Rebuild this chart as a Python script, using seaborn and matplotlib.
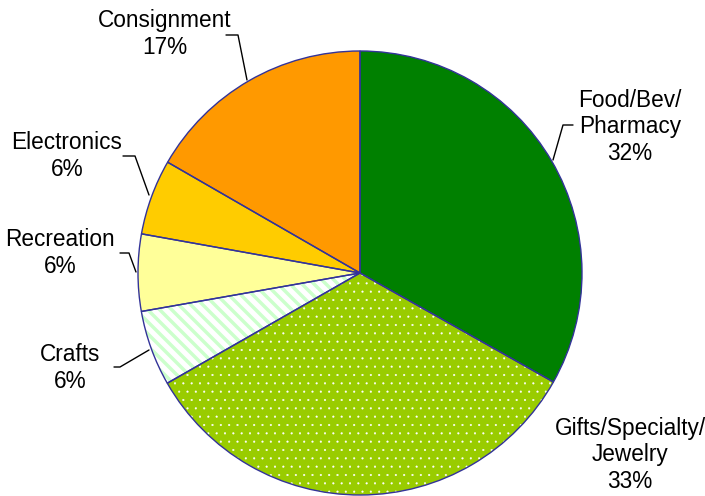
import numpy as np
import seaborn as sns
from matplotlib import pyplot as plt

# slices, clockwise from 12 o'clock
categories = ["Food/Bev/\nPharmacy", "Gifts/Specialty/\nJewelry", "Crafts", "Recreation", "Electronics", "Consignment"]
shares = [33.2, 33.6, 5.5, 5.6, 5.5, 16.7]   # wedge sizes
pct_labels = ["32%", "33%", "6%", "6%", "6%", "17%"]
colors = ["#008000", "#99CC00", "#CCFFCC", "#FFFF99", "#FFCC00", "#FF9900"]

sns.set_theme(style="white")
plt.rcParams["font.family"] = ["Liberation Sans", "DejaVu Sans"]
plt.rcParams["hatch.color"] = "white"
plt.rcParams["hatch.linewidth"] = 0.3

fig = plt.figure(figsize=(7.05, 4.96), dpi=100)
ax = fig.add_axes([0, 0, 1, 1])

cx, cy, r = 360, 273, 222
# y axis inverted (pixel coords), so counterclock=True draws clockwise on screen
wedges, _ = ax.pie(shares, colors=colors, startangle=-90, counterclock=True,
                   center=(cx, cy), radius=r,
                   wedgeprops=dict(linewidth=0, edgecolor="white"))
# dotted gifts slice
wedges[1].set_hatch("..")
if hasattr(wedges[1], "set_hatch_linewidth"):
    wedges[1].set_hatch_linewidth(0.3)
# white diagonal stripes on crafts slice
for c in np.arange(-600, 800, 12):
    ln = ax.axline((c, 0), slope=1, color="white", lw=3.6, zorder=wedges[2].get_zorder() + 0.1)
    ln.set_clip_path(wedges[2])

ax.pie(shares, colors=["none"] * len(shares), startangle=-90, counterclock=True,
       center=(cx, cy), radius=r,
       wedgeprops=dict(linewidth=1.0, edgecolor="#333399", fill=False, zorder=5))

ax.set_xlim(0, 705)
ax.set_ylim(496, 0)
ax.set_aspect("equal")
ax.axis("off")

# label positions (text centre) and leader lines
label_pos = [(630, 127), (630, 455), (70, 368), (60, 253), (67, 156), (165, 34)]
leaders = [
    [(573, 125), (563, 125), (553, 160)],
    None,
    [(114, 367), (120, 367), (149, 350)],
    [(120, 253), (129, 253), (136, 272)],
    [(123, 156), (135, 156), (149, 195)],
    [(226, 35), (238, 35), (247, 80)],
]
for cat, pct, (tx, ty), ld in zip(categories, pct_labels, label_pos, leaders):
    ax.text(tx, ty, cat + "\n" + pct, ha="center", va="center", fontsize=16.3,
            color="black", linespacing=1.2)
    if ld:
        xs, ys = zip(*ld)
        ax.plot(xs, ys, color="black", lw=1.0)

fig.savefig("out.png", dpi=100)
